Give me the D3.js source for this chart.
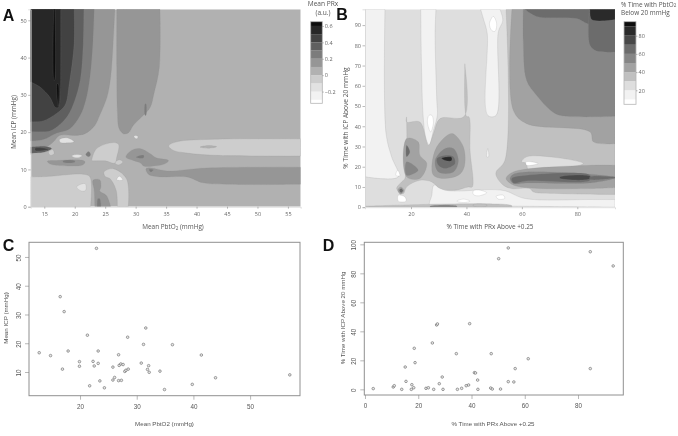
<!DOCTYPE html>
<html>
<head>
<meta charset="utf-8">
<script src="https://cdnjs.cloudflare.com/ajax/libs/d3/7.8.5/d3.min.js"></script>
<style>
  html, body { margin: 0; padding: 0; background: #fff; }
  svg { display: block; filter: blur(0.4px); }
  .soft { font-family: "Open Sans", sans-serif; fill: #555; }
  .plain { font-family: "Liberation Sans", sans-serif; fill: #555; }
</style>
</head>
<body>
<svg id="chart" width="678" height="436"></svg>
<script>
// panel A: mean PbtO2 (x), mean ICP (y), regions are [PRx level, outline]
var prxThresholds = [-0.3, -0.2, -0.1, 0, 0.1, 0.2, 0.3, 0.4, 0.5, 0.6];
var prxLegendTicks = [0.6, 0.4, 0.2, 0, -0.2];
var prxXTicks = [15, 20, 25, 30, 35, 40, 45, 50, 55];
var prxYTicks = [0, 10, 20, 30, 40, 50];
var prxBase = 0.05;
var prxRegions = [
  [0.15, [[12.7,53],[26.6,53],[26.3,43.7],[25.9,34.8],[25.3,29.4],[24.1,24.5],[23.3,21.8],[21.7,19.6],[20,19.1],[17.5,19.1],[16.5,17.4],[15.4,16],[12.7,14]]],
  [0.15, [[26.9,53],[34,53],[33.9,37.5],[33,30.3],[32.4,26.7],[31,24.1],[29.6,21.8],[28.8,19.8],[28,19.6],[27.3,20.9],[27,25.8],[26.9,37.5]]],
  [0.25, [[31.55,27.6],[31.7,27.6],[31.7,24.5],[31.55,24.5]]],
  [0.25, [[12.7,53],[23.2,53],[23,44.6],[22.5,34.8],[21.8,28.5],[20.9,24.5],[19.2,20.9],[16.8,19.6],[14.8,18],[12.7,17.6]]],
  [0.35, [[12.7,53],[21.5,53],[21.4,43.7],[20.9,33.9],[20,28.5],[18.9,24.5],[17.6,22.1],[15.9,20.3],[12.7,20.2]]],
  [0.45, [[12.7,53],[19.9,53],[19.9,43.7],[19.1,33],[18.4,27.2],[17,25],[14.8,23],[12.7,22.8]]],
  [0.55, [[12.7,53],[17.7,53],[17.7,37.5],[17.6,29.4],[17.3,26.6],[16.8,26.7],[15.9,29.4],[14.3,32.1],[12.7,33.5]]],
  [0.65, [[16.55,53],[16.75,53],[16.7,33.9],[16.6,33.9]]],
  [0.65, [[17.1,33],[17.3,33],[17.3,26.9],[17.15,28.5]]],
  [0.35, [[12.7,16],[15.1,16.2],[16.2,15.6],[15.1,14.7],[12.7,14.4]]],
  [0.45, [[13.5,15.7],[15.1,15.7],[15.7,15.4],[14.6,15],[13.5,15.1]]],
  [-0.15, [[17.5,18],[18.7,18.5],[19.9,17.4],[18.4,17.1],[17.6,17.3]]],
  [-0.05, [[15.7,14.7],[16.4,15.3],[16.6,14.2],[16,13.8]]],
  [-0.15, [[19.5,13.6],[20.3,14],[21.2,13.7],[20.4,13.1]]],
  [0.15, [[15.5,12.2],[17,12.4],[21.4,12.4],[21.7,12],[21.3,11.2],[17,11.1],[15.9,11.5]]],
  [0.25, [[18.1,12.3],[20,12.3],[20,11.9],[18.1,11.9]]],
  [0.25, [[21.8,14],[22.3,14.8],[22.6,14],[22.3,13.4]]],
  [-0.05, [[22.8,12.6],[23.6,15.6],[26.3,17.2],[27.2,16.7],[26.9,13.3],[26.6,11.7],[25,12.3],[22.8,12.4]]],
  [-0.05, [[26.6,11.7],[27.3,12.6],[27.9,12],[27.2,11.2]]],
  [-0.05, [[24.8,9.3],[26.3,10.2],[28.5,7.5],[28.8,0],[27,0],[26.8,4.4],[25.8,7.5],[25,8.1]]],
  [-0.25, [[26.9,7.2],[27.3,8.2],[27.9,7.2]]],
  [-0.05, [[12.7,8],[15.4,8.1],[21.4,8.7],[22.5,8],[22.6,0],[12.7,0]]],
  [-0.15, [[20.3,5.3],[21.7,6.2],[21.8,4.4],[21.1,4.2]]],
  [0.15, [[23,7.1],[24.1,7.2],[24.3,5.3],[24.1,4.2],[25.2,3],[25.9,0],[23.3,0],[23.2,4.4]]],
  [0.25, [[23.8,2.1],[24.1,2.1],[24.3,0],[23.7,0]]],
  [0.15, [[28.4,13.3],[29.3,15.1],[30.7,15.6],[32.4,14.2],[33.4,13.1],[35.4,12.4],[34.8,11.5],[32.4,10.8],[31.3,10.9],[30.8,11.7],[29.6,12.4]]],
  [0.25, [[30.1,13.3],[31.3,13.8],[31.3,13.1],[30.2,13.1]]],
  [0.15, [[31.7,10.2],[32.6,10.4],[35.1,9.6],[41.7,10.4],[57.1,10.6],[57.1,6],[45.5,6],[41.1,6.4],[38.4,8],[34,8],[32.1,8.7]]],
  [0.25, [[32.2,10],[32.9,9.9],[32.5,9.3]]],
  [-0.05, [[35.4,16.3],[36.7,17.4],[42.8,18.1],[57.1,18.2],[57.1,13.6],[42.8,13.8],[38.4,14.4],[36.2,15.1]]],
  [0.05, [[40.6,16],[41.9,16.4],[43.3,16.1],[41.9,15.7]]],
  [-0.15, [[29.7,18.9],[30.1,19.1],[30.4,18.7],[30.1,18.2]]]
];

// panel B: % time PRx above +0.25 (x), % time ICP above 20 (y), regions are [% time PbtO2 low, outline]
var timeThresholds = [10, 20, 30, 40, 50, 60, 70, 80, 90];
var timeLegendTicks = [80, 60, 40, 20];
var timeXTicks = [20, 40, 60, 80];
var timeYTicks = [0, 10, 20, 30, 40, 50, 60, 70, 80, 90];
var timeBase = 25;
var timeRegions = [
  [15, [[3.4,97.8],[10.6,97.8],[11,36.4],[13,24.9],[15.4,15],[3.4,15]]],
  [15, [[23.5,97.8],[29,97.8],[28.7,85.8],[29.3,52.8],[29.5,45.4],[28.1,38],[26.6,30.6],[25.4,33.9],[24.4,44.6],[23.8,69.3]]],
  [5, [[26.5,45.4],[27.5,45.4],[28.1,42.1],[27.1,37.2],[25.9,42.1]]],
  [15, [[45.1,97.8],[52.1,97.8],[53.1,92.3],[51.5,86.6],[50.7,45.4],[47.7,45.4],[47.5,85.8],[46.3,92.3]]],
  [5, [[48.3,90.7],[49.7,94.3],[50.9,90.7],[50.3,86.9],[49.1,87.4]]],
  [35, [[54.3,97.8],[93.6,97.8],[93.6,6.3],[74.9,6.7],[64.1,7.6],[62.9,9.2],[56.3,9.2],[53.3,10.9],[50.9,15],[50.7,17.4],[53.9,23.2]]],
  [15, [[27.5,5.9],[28.3,10.9],[32.3,8.4],[39.5,8.1],[47.3,8.7],[53.9,8.1],[61.1,4.3],[84.6,3.8],[93.6,3.8],[93.6,0],[56.3,0.5],[26.9,0.5]]],
  [35, [[3.4,0.5],[56.3,0.8],[56.3,0],[3.4,0]]],
  [55, [[26.9,0.5],[36.5,0.6],[36.5,0],[26.9,0]]],
  [35, [[42.5,1.3],[47.3,1.2],[47.3,0.6],[42.5,0.6]]],
  [5, [[42.5,8.1],[44.9,8.4],[47.3,7.1],[44.3,5.6],[42.5,6.3]]],
  [5, [[36.5,3],[38.9,4],[41.3,3],[38.9,2.3]]],
  [5, [[50.7,5.4],[53.3,5.9],[53.8,4.3],[51.5,4]]],
  [5, [[15.4,5.9],[17.8,5.1],[18.2,3],[15.4,3]]],
  [5, [[14.5,15.8],[15.2,18.3],[16,15.5]]],
  [15, [[47.3,24.9],[47.7,29],[48,24.9]]],
  [35, [[18.4,44.6],[18.4,42.1],[23.2,42.1],[26.3,30.6],[28.1,36.4],[30.5,43.8],[39.2,44.9],[39.4,70.9],[40,44.9],[40.9,44.6],[41.3,28.1],[42.1,10],[40.7,10],[35.9,8.4],[30.5,9.2],[27.5,12.5],[23.2,13.3],[18.4,10],[17.2,6.7],[14.8,9.2],[16.6,12.5],[17.8,14.2]]],
  [45, [[18.4,33.9],[22.6,32.3],[23.2,25.7],[25.7,21.6],[23.2,14.2],[18.4,15]]],
  [45, [[27.5,19.1],[28.7,28.1],[31.7,33.9],[34.9,36.4],[38.9,29.8],[39.2,19.9],[37.1,15.8],[31.1,14.2],[28.1,15.8]]],
  [65, [[18.4,30.6],[19.6,27.3],[18.4,24.9]]],
  [55, [[18.4,22.4],[22.6,18.3],[18.4,15.8]]],
  [55, [[28.7,23.2],[32.3,29],[35.3,29],[37.1,23.2],[35.3,17.4],[29.9,17.4]]],
  [65, [[29.3,24],[32.9,25.7],[35.3,24.9],[35.9,21.6],[32.3,19.1],[29.9,20.7]]],
  [85, [[31,24.2],[34.6,24.7],[34.6,23],[32.6,23]]],
  [45, [[15.2,8.4],[16.3,10],[17.5,8.4],[16.3,6.4]]],
  [65, [[15.8,8.4],[16.5,9.2],[17.1,8.1],[16.4,7.2]]],
  [45, [[56.4,97.8],[93.6,97.8],[93.6,31.4],[85.8,32.3],[84.6,37.2],[61.7,41.3],[56.9,47.9]]],
  [55, [[60.5,97.8],[93.6,97.8],[93.6,44.9],[73.7,45.4],[70.1,48.2],[65.3,55.3],[61.7,62.7],[60.5,82.5]]],
  [65, [[61.1,97.8],[84.6,97.8],[84.3,90.7],[79.8,93.2],[65.3,94.3]]],
  [65, [[84.3,97.8],[93.6,97.8],[93.6,76.7],[87,77.2],[84.6,80]]],
  [85, [[84.6,97.8],[93.6,97.8],[93.6,92.7],[85.2,92.7]]],
  [25, [[59.9,22.4],[61.7,24.9],[72.5,24.5],[82.2,21.6],[76.2,19.6],[62.3,18.6],[61.7,21.6]]],
  [5, [[61.5,22.4],[65.9,21.6],[61.7,20.7]]],
  [45, [[54.3,14.2],[56.9,17.4],[84.6,20.7],[93.6,20.7],[93.6,9.7],[84.6,9.2],[61.1,9.7],[56.3,11.4]]],
  [55, [[55.7,14.2],[57.5,16.6],[84.6,16.3],[93.6,15],[93.6,14.2],[84.6,12],[61.7,12],[56.9,11.7]]],
  [65, [[56.3,14.2],[61.7,15.8],[84.6,15.8],[84.6,13.3],[61.7,13],[56.9,12]]],
  [75, [[73.7,15],[84.6,15.3],[84.6,14],[73.7,14.3]]],
  [65, [[84.6,15],[93.6,14.9],[93.6,14.4],[84.6,13.8]]]
];

// panel C scatter
var pbto2Values = [12.8,14.8,16.5,17.2,16.9,17.9,19.9,19.9,21.3,21.7,22.3,22.5,22.9,23.2,23.2,23.5,24.3,25.8,25.8,26.1,26.8,26.8,26.9,27.2,27.6,27.3,27.9,28.1,28.5,28.4,30.8,31.2,31.6,31.9,32.1,32.2,34.1,34.9,36.3,39.8,41.4,43.9,57];
var icpValues = [16.7,15.7,36.2,31,11,17.3,13.6,12,22.8,5.2,13.7,12.1,53,17.3,13,6.9,4.5,11.7,7.2,8.1,16,7,12.3,12.8,12.6,7.1,10.2,10.6,11,22.1,13.1,19.6,25.3,10.9,12.2,9.9,10.3,3.9,19.5,5.7,15.9,8,9];
var cXTicks = [20, 30, 40, 50];
var cYTicks = [10, 20, 30, 40, 50];

// panel D scatter
var prxTimeValues = [3.1,10.6,11,13.8,15.1,15.4,17.4,17.6,18.3,18.5,18.8,22.9,23.8,25.3,25.8,26.9,27.2,27.9,29,29.3,34.3,34.7,36.3,38,38.9,39.3,41.1,41.5,42.3,42.4,47.2,47.4,47.8,50.9,50.2,53.8,53.8,55.9,56.4,61.3,84.6,84.6,93.2];
var icpTimeValues = [0.5,1.6,2.5,0,15.4,5.5,0,3.2,1.1,28.3,18.4,0.7,1.1,32,0,44.4,45.1,3.9,8.5,0,24.6,0,0.7,2.5,3,45.3,11.5,11.3,6.4,0,0.9,24.6,0.2,0.2,90.1,5.3,97.5,5.1,14.3,21.1,94.9,14.3,85.1];
var dXTicks = [0, 20, 40, 60, 80];
var dYTicks = [0, 20, 40, 60, 80, 100];

var svg = d3.select("#chart");
var clipCount = 0;

var prxColor = d3.scaleThreshold().domain(prxThresholds)
    .range(["#ffffff", "#f2f2f2", "#e2e2e2", "#cdcdcd", "#b1b1b1", "#969696", "#7c7c7c", "#5f5f5f", "#424242", "#272727", "#0d0d0d"]);
var timeColor = d3.scaleThreshold().domain(timeThresholds)
    .range(["#ffffff", "#f2f2f2", "#dedede", "#c0c0c0", "#a2a2a2", "#868686", "#6c6c6c", "#484848", "#2a2a2a", "#0d0d0d"]);

function contourPanel(opts) {
    var x = d3.scaleLinear().domain(opts.xDomain).range([opts.left, opts.right]);
    var y = d3.scaleLinear().domain(opts.yDomain).range([opts.bottom, opts.top]);
    var id = "clip" + (clipCount++);

    svg.append("clipPath").attr("id", id).append("rect")
        .attr("x", opts.left).attr("y", opts.top)
        .attr("width", opts.right - opts.left).attr("height", opts.bottom - opts.top);

    var g = svg.append("g").attr("clip-path", "url(#" + id + ")");
    g.append("rect")
        .attr("x", opts.left).attr("y", opts.top)
        .attr("width", opts.right - opts.left).attr("height", opts.bottom - opts.top)
        .attr("fill", opts.color(opts.base));

    var line = d3.line()
        .x(function (d) { return x(d[0]); })
        .y(function (d) { return y(d[1]); })
        .curve(d3.curveCatmullRomClosed.alpha(0.5));

    // points on the panel edge are repeated so the curve keeps a hard corner there
    function onEdge(p) {
        return p[0] <= opts.xDomain[0] + 0.1 || p[0] >= opts.xDomain[1] - 0.1 ||
            p[1] <= opts.yDomain[0] + 0.1 || p[1] >= opts.yDomain[1] - 0.1;
    }
    function outline(points) {
        var out = [];
        points.forEach(function (p) {
            out.push(p);
            if (onEdge(p)) { out.push(p); }
        });
        return line(out);
    }

    g.selectAll("path").data(opts.regions).enter().append("path")
        .attr("d", function (d) { return outline(d[1]); })
        .attr("fill", function (d) { return opts.color(d[0]); })
        .attr("stroke", "#8c8c8c")
        .attr("stroke-opacity", 0.45)
        .attr("stroke-width", 0.4);

    var xAxis = svg.append("g")
        .attr("transform", "translate(0," + opts.bottom + ")")
        .call(d3.axisBottom(x).tickValues(opts.xTicks).tickSize(2).tickPadding(3));
    var yAxis = svg.append("g")
        .attr("transform", "translate(" + opts.left + ",0)")
        .call(d3.axisLeft(y).tickValues(opts.yTicks).tickSize(2.5).tickPadding(1.5));
    [xAxis, yAxis].forEach(function (a) {
        a.select(".domain").attr("stroke", "#d6d6d6").attr("stroke-width", 0.8);
        a.selectAll(".tick line").attr("stroke", "#777").attr("stroke-width", 0.5);
        a.selectAll("text").attr("font-size", 5.5).attr("font-family", "Open Sans").attr("fill", "#666");
    });
}

function legend(opts) {
    var y = d3.scaleLinear().domain(opts.domain).range([opts.bottom, opts.top]);
    var edges = [opts.domain[0]].concat(opts.thresholds, [opts.domain[1]]);
    svg.selectAll(null).data(d3.pairs(edges)).enter().append("rect")
        .attr("x", opts.left).attr("width", opts.width)
        .attr("y", function (d) { return y(d[1]); })
        .attr("height", function (d) { return y(d[0]) - y(d[1]); })
        .attr("fill", function (d) { return opts.color((d[0] + d[1]) / 2); });
    svg.append("rect")
        .attr("x", opts.left).attr("y", opts.top)
        .attr("width", opts.width).attr("height", opts.bottom - opts.top)
        .attr("fill", "none").attr("stroke", "#b5b5b5").attr("stroke-width", 0.8);
    var axis = svg.append("g")
        .attr("transform", "translate(" + (opts.left + opts.width) + ",0)")
        .call(d3.axisRight(y).tickValues(opts.ticks).tickSize(1.5).tickPadding(1)
            .tickFormat(function (d) { return String(d).replace("-", "\u2212"); }));
    axis.select(".domain").remove();
    axis.selectAll(".tick line").attr("stroke", "#777").attr("stroke-width", 0.5);
    axis.selectAll("text").attr("font-size", 5.5).attr("font-family", "Open Sans").attr("fill", "#666");
}

function scatterPanel(opts) {
    var x = d3.scaleLinear().domain(opts.xDomain).range([opts.left, opts.right]);
    var y = d3.scaleLinear().domain(opts.yDomain).range([opts.bottom, opts.top]);

    svg.append("rect")
        .attr("x", opts.left).attr("y", opts.top)
        .attr("width", opts.right - opts.left).attr("height", opts.bottom - opts.top)
        .attr("fill", "none").attr("stroke", "#909090").attr("stroke-width", 1);

    svg.selectAll(null).data(opts.xs).enter().append("circle")
        .attr("cx", function (d) { return x(d); })
        .attr("cy", function (d, i) { return y(opts.ys[i]); })
        .attr("r", 1.3)
        .attr("fill", "#e8e8e8")
        .attr("stroke", "#5a5a5a")
        .attr("stroke-width", 0.55);

    var xAxis = svg.append("g")
        .attr("transform", "translate(0," + opts.bottom + ")")
        .call(d3.axisBottom(x).tickValues(opts.xTicks).tickSize(4).tickPadding(5));
    var yAxis = svg.append("g")
        .attr("transform", "translate(" + opts.left + ",0)")
        .call(d3.axisLeft(y).tickValues(opts.yTicks).tickSize(4));
    [xAxis, yAxis].forEach(function (a) {
        a.select(".domain").remove();
        a.selectAll(".tick line").attr("stroke", "#888").attr("stroke-width", 0.6);
        a.selectAll("text").attr("font-size", 6.3).attr("font-family", "Liberation Sans").attr("fill", "#555");
    });
    yAxis.selectAll("text")
        .attr("text-anchor", "middle")
        .attr("dy", 0)
        .attr("x", 0)
        .attr("transform", "translate(" + opts.yTickOffset + ",0.5) rotate(-90)");
}

function label(txt, px, py, cls, size, rotate, anchor) {
    var t = svg.append("text")
        .attr("class", cls)
        .attr("font-size", size)
        .attr("text-anchor", anchor || "middle")
        .attr("dominant-baseline", "central")
        .attr("transform", "translate(" + px + "," + py + ")" + (rotate ? " rotate(-90)" : ""));
    t.text(txt);
    return t;
}

function subscriptLabel(before, sub, after, px, py, size, anchor) {
    var t = label("", px, py, "soft", size, false, anchor);
    t.append("tspan").text(before);
    t.append("tspan").attr("font-size", size * 0.7).attr("dy", size * 0.25).text(sub);
    t.append("tspan").attr("dy", -size * 0.25).text(after);
}

contourPanel({
    left: 30.7, right: 300.7, top: 9.3, bottom: 206.7,
    xDomain: [12.77, 57.1], yDomain: [0, 52.95],
    color: prxColor, base: prxBase, regions: prxRegions,
    xTicks: prxXTicks, yTicks: prxYTicks
});
contourPanel({
    left: 365, right: 615, top: 9.3, bottom: 207.2,
    xDomain: [3.4, 93.6], yDomain: [0, 97.8],
    color: timeColor, base: timeBase, regions: timeRegions,
    xTicks: timeXTicks, yTicks: timeYTicks
});
legend({
    left: 310.7, width: 11.6, top: 21.7, bottom: 103.3,
    domain: [-0.343, 0.652], thresholds: prxThresholds, color: prxColor, ticks: prxLegendTicks
});
legend({
    left: 624, width: 12, top: 21.7, bottom: 104.3,
    domain: [4.6, 95.4], thresholds: timeThresholds, color: timeColor, ticks: timeLegendTicks
});
scatterPanel({
    left: 29, right: 300, top: 242.3, bottom: 395.7,
    xDomain: [11, 58.8], yDomain: [1.76, 55.1],
    xs: pbto2Values, ys: icpValues, xTicks: cXTicks, yTicks: cYTicks, yTickOffset: -8.5
});
scatterPanel({
    left: 364.3, right: 623.3, top: 242.3, bottom: 395,
    xDomain: [-0.26, 97], yDomain: [-3.9, 101.4],
    xs: prxTimeValues, ys: icpTimeValues, xTicks: dXTicks, yTicks: dYTicks, yTickOffset: -8
});

// panel titles and axis captions
label("Mean ICP (mmHg)", 13.3, 122, "soft", 6.4, true);
subscriptLabel("Mean PbtO", "2", " (mmHg)", 173, 226, 6.4);
label("Mean PRx", 323, 3.7, "soft", 6.6);
label("(a.u.)", 323, 12, "soft", 6.6);
label("% Time with ICP Above 20 mmHg", 345.7, 118, "soft", 6.6, true);
label("% Time with PRx Above +0.25", 490, 226, "soft", 6.4);
subscriptLabel("% Time with PbtO", "2", "", 621, 3.7, 6.4, "start");
label("Below 20 mmHg", 621, 12.7, "soft", 6.4, false, "start");
label("Mean PbtO2 (mmHg)", 164.5, 423, "plain", 6.2);
label("Mean ICP (mmHg)", 5.6, 318, "plain", 6.2, true);
label("% Time with PRx Above +0.25", 493, 423, "plain", 6.2);
label("% Time with ICP Above 20 mmHg", 342, 318, "plain", 6.2, true);

[["A", 8.5, 15], ["B", 342, 14], ["C", 8.5, 245], ["D", 328.5, 245]].forEach(function (d) {
    svg.append("text")
        .attr("x", d[1]).attr("y", d[2])
        .attr("text-anchor", "middle").attr("dominant-baseline", "central")
        .attr("font-family", "Liberation Sans").attr("font-weight", "bold")
        .attr("font-size", 16).attr("fill", "#111")
        .text(d[0]);
});
</script>
</body>
</html>
